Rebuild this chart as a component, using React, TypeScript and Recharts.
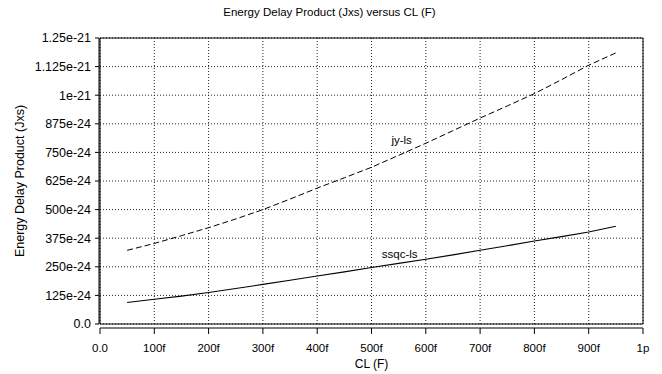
import React from 'react';
import { LineChart, Line, XAxis, YAxis, CartesianGrid, ReferenceArea } from 'recharts';

// capacitance in fF
const capacitance = [50, 100, 150, 200, 250, 300, 350, 400, 450, 500, 550, 600, 650, 700, 750, 800, 850, 900, 950];
// energy delay product in units of 1e-24 J*s
const jyLs = [322, 352, 386, 421, 459, 500, 546, 594, 639, 685, 737, 790, 845, 900, 953, 1007, 1068, 1131, 1185];
const ssqcLs = [94, 108, 122, 138, 155, 173, 191, 210, 228, 247, 265, 283, 302, 322, 342, 363, 382, 402, 427];

const xTicks = [0, 100, 200, 300, 400, 500, 600, 700, 800, 900, 1000];
const xTickLabels = ['0.0', '100f', '200f', '300f', '400f', '500f', '600f', '700f', '800f', '900f', '1p'];
const yTicks = [0, 125, 250, 375, 500, 625, 750, 875, 1000, 1125, 1250];
const yTickLabels = ['0.0', '125e-24', '250e-24', '375e-24', '500e-24', '625e-24', '750e-24', '875e-24', '1e-21', '1.125e-21', '1.25e-21'];

const seriesNames = ['jy-ls', 'ssqc-ls'];
const title = 'Energy Delay Product (Jxs) versus CL (F)';
const xTitle = 'CL (F)';
const yTitle = 'Energy Delay Product (Jxs)';

const data = capacitance.map((c, i) => ({ cl: c, jy: jyLs[i], ssqc: ssqcLs[i] }));

const FONT = '"Liberation Sans", Arial, sans-serif';
const FS = 11.5;
const FS_Y = 12.5;

const makeLabel = (text: string, atIndex: number, dx: number, dy: number) => (props: any) => {
  if (props.index !== atIndex) return null;
  return (
    <text x={props.x + dx} y={props.y + dy} textAnchor="middle" fontFamily={FONT} fontSize={FS} fill="#000">
      {text}
    </text>
  );
};

export default function App() {
  return (
    <div style={{ position: 'absolute', left: 0, top: 0, width: 662, height: 374, background: '#fff' }}>
      <div
        style={{
          position: 'absolute',
          left: 0,
          top: 7,
          width: 659,
          textAlign: 'center',
          fontFamily: FONT,
          fontSize: FS,
          lineHeight: `${FS}px`,
          color: '#000',
        }}
      >
        {title}
      </div>
      <LineChart width={662} height={374} data={data} margin={{ top: 38, right: 19, left: 0, bottom: 0 }}>
        <CartesianGrid stroke="#222" strokeDasharray="1 2" />
        <XAxis
          dataKey="cl"
          type="number"
          domain={[0, 1000]}
          ticks={xTicks}
          interval={0}
          tickFormatter={(v: number) => xTickLabels[xTicks.indexOf(v)]}
          tickSize={6}
          tickMargin={14}
          height={50}
          axisLine={{ stroke: '#000', transform: 'translate(0,4)' } as any}
          tickLine={{ stroke: '#000', transform: 'translate(0,4)' } as any}
          tick={{ fill: '#000', fontSize: FS, fontFamily: FONT }}
          label={{ value: xTitle, position: 'insideBottom', offset: 6, fill: '#000', fontSize: 12, fontFamily: FONT }}
        />
        <YAxis
          type="number"
          domain={[0, 1250]}
          ticks={yTicks}
          interval={0}
          tickFormatter={(v: number) => yTickLabels[yTicks.indexOf(v)]}
          tickSize={4}
          tickMargin={5}
          width={100}
          axisLine={{ stroke: '#000', transform: 'translate(-1,0)' } as any}
          tickLine={{ stroke: '#000', transform: 'translate(-1,0)' } as any}
          tick={{ fill: '#000', fontSize: FS_Y, fontFamily: FONT }}
          label={{
            value: yTitle,
            angle: -90,
            position: 'insideLeft',
            offset: 20,
            fill: '#000',
            fontSize: FS_Y,
            fontFamily: FONT,
            style: { textAnchor: 'middle' },
          }}
        />
        <ReferenceArea x1={0} x2={1000} y1={0} y2={1250} fill="none" fillOpacity={0} stroke="#000" strokeWidth={1} />
        <Line
          dataKey="jy"
          name={seriesNames[0]}
          stroke="#000"
          strokeWidth={1}
          strokeDasharray="6 3"
          dot={false}
          isAnimationActive={false}
          label={makeLabel(seriesNames[0], 10, 3, -11)}
        />
        <Line
          dataKey="ssqc"
          name={seriesNames[1]}
          stroke="#000"
          strokeWidth={1.1}
          dot={false}
          isAnimationActive={false}
          label={makeLabel(seriesNames[1], 10, 1, -5.5)}
        />
      </LineChart>
    </div>
  );
}
